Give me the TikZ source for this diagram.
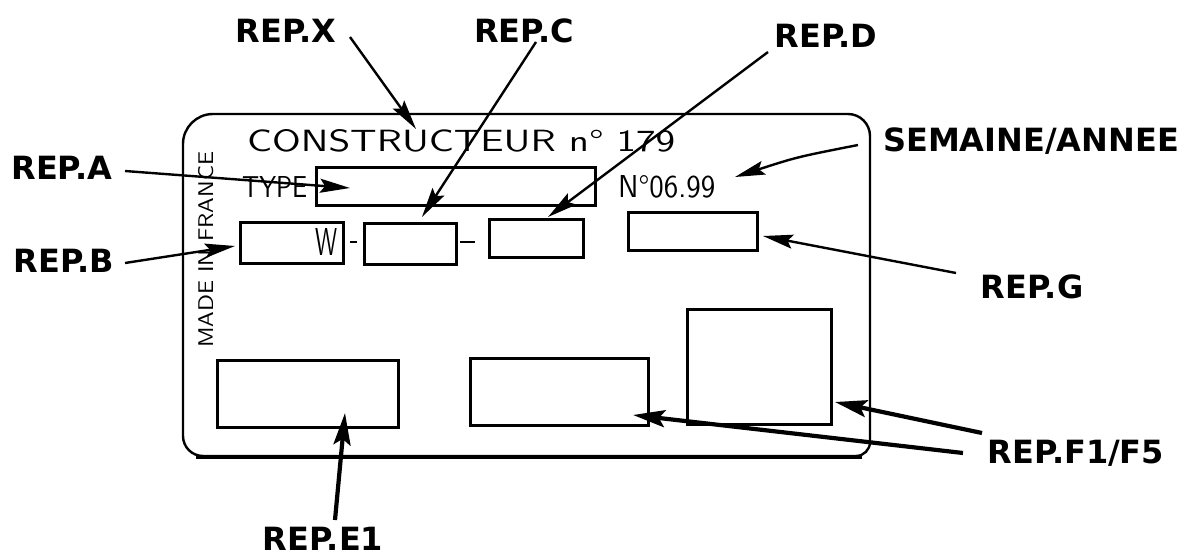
\documentclass[tikz,border=0pt]{standalone}
\usepackage{fontspec}
\usepackage{graphicx}
\usetikzlibrary{arrows.meta}
\newfontfamily\lblfont{DejaVu Sans}
\tikzset{
  lbl/.style={font=\lblfont\bfseries\fontsize{32}{32}\selectfont, anchor=base, inner sep=0pt},
  platetxt/.style={font=\sffamily, anchor=base west, inner sep=0pt},
  field/.style={draw, line width=3pt, inner sep=0pt},
  plate/.style={draw, line width=2.4pt},
  ptr/.style={line width=2.4pt, -{Stealth[length=30pt,width=14pt,inset=5pt]}},
  thickptr/.style={line width=4.2pt, -{Stealth[length=32pt,width=17pt,inset=6pt]}},
  hyph/.style={line width=2pt}
}
\begin{document}
\begin{tikzpicture}[x=1pt,y=-1pt]
\useasboundingbox (0,0) rectangle (1187,557);
\fill[white] (0,0) rectangle (1187,557);
% plate
\draw[plate] (183,300) [rounded corners=30pt] -- (183,114) [rounded corners=22pt] -- (870,114) [rounded corners=14pt] -- (870,456) [rounded corners=20pt] -- (183,456) -- cycle;
\draw[line width=4pt] (196,456.5) -- (862,456.5);
% plate texts
\node[platetxt] (cons) at (247,151) {\resizebox{428pt}{22pt}{CONSTRUCTEUR n° 179}};
\node[platetxt] (type) at (242,197) {\resizebox{65pt}{21pt}{TYPE}};
\node[platetxt] (wtxt) at (315,255) {\resizebox{22pt}{27pt}{W}};
\node[platetxt] (date) at (618,197) {\resizebox{97pt}{22pt}{N°06.99}};
\node[platetxt, rotate=90] (made) at (213,348) {\resizebox{196pt}{15pt}{MADE IN FRANCE}};
% fields
\node[field, minimum width=279pt, minimum height=38pt] (typebox) at (455.5,186) {};
\node[field, minimum width=103pt, minimum height=41pt] (wbox) at (291.5,242.5) {};
\node[field, minimum width=92pt, minimum height=41pt] (cbox) at (410,243.5) {};
\node[field, minimum width=94pt, minimum height=38pt] (dbox) at (536,238) {};
\node[field, minimum width=129pt, minimum height=38pt] (gbox) at (692.5,231) {};
\node[field, minimum width=181pt, minimum height=67pt] (e1box) at (307.5,393.5) {};
\node[field, minimum width=178pt, minimum height=67pt] (f1box) at (559,391.5) {};
\node[field, minimum width=144pt, minimum height=115pt] (f5box) at (759,366.5) {};
% hyphens
\coordinate (h1a) at (350,242); \coordinate (h1b) at (357,242);
\coordinate (h2a) at (460,242); \coordinate (h2b) at (475,242);
\draw[hyph] (h1a) -- (h1b);
\draw[hyph] (h2a) -- (h2b);
% labels
\node[lbl] (lX) at (286,42) {REP.X};
\node[lbl] (lC) at (524,42) {REP.C};
\node[lbl] (lD) at (826,47) {REP.D};
\node[lbl] (lS) at (1031,151) {SEMAINE/ANNEE};
\node[lbl] (lA) at (62,179) {REP.A};
\node[lbl] (lB) at (64,272) {REP.B};
\node[lbl] (lG) at (1032,298) {REP.G};
\node[lbl] (lF) at (1076,463) {REP.F1/F5};
\node[lbl] (lE) at (323,550) {REP.E1};
% connector ends
\coordinate (sX) at (350,37);  \coordinate (tX) at (416,129);
\coordinate (sC) at (536,42);  \coordinate (tC) at (422,217);
\coordinate (sD) at (768,52);  \coordinate (tD) at (548,217);
\coordinate (sS) at (858,145); \coordinate (cS) at (797,157); \coordinate (tS) at (735,177);
\coordinate (sG) at (956,273); \coordinate (tG) at (763,236);
\coordinate (sA) at (125,171); \coordinate (tA) at (350,188);
\coordinate (sB) at (125,263); \coordinate (tB) at (235,246);
\coordinate (sE) at (335,520); \coordinate (tE) at (345,413);
\coordinate (sF1) at (982,433); \coordinate (tF1) at (835,402);
\coordinate (sF2) at (963,453); \coordinate (tF2) at (633,415);
% connectors
\draw[ptr] (sX) -- (tX);
\draw[ptr] (sC) -- (tC);
\draw[ptr] (sD) -- (tD);
\draw[ptr] (sS) .. controls (cS) .. (tS);
\draw[ptr] (sG) -- (tG);
\draw[ptr] (sA) -- (tA);
\draw[ptr] (sB) -- (tB);
\draw[thickptr] (sE) -- (tE);
\draw[thickptr] (sF1) -- (tF1);
\draw[thickptr] (sF2) -- (tF2);
\end{tikzpicture}
\end{document}
